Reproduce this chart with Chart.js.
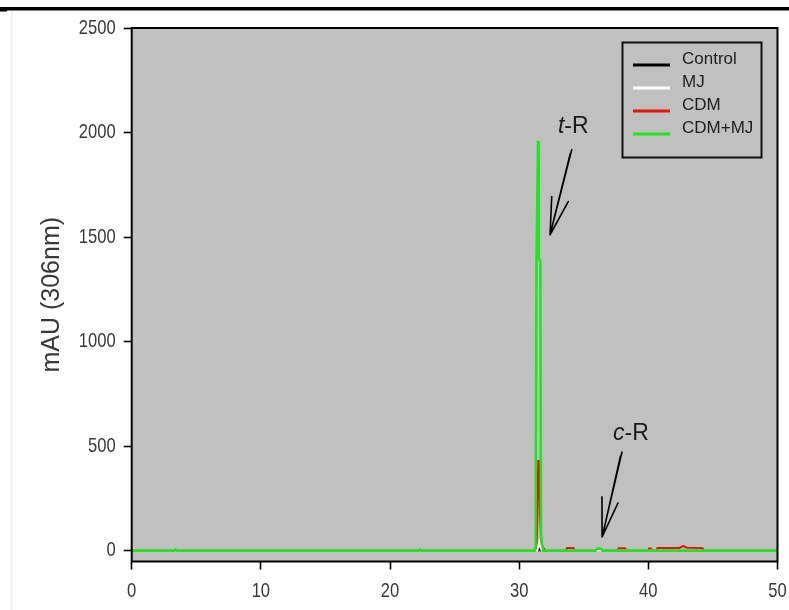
<!DOCTYPE html>
<html>
<head>
<meta charset="utf-8">
<script src="https://cdn.jsdelivr.net/npm/chart.js@4/dist/chart.umd.min.js"></script>
<style>
  html, body { margin: 0; padding: 0; background: #fff; }
  canvas { display: block; }
</style>
</head>
<body>
<canvas id="chrom" width="789" height="610"></canvas>
<script>
// HPLC traces: retention time (min) against absorbance (mAU at 306 nm)
const controlTime = [0, 31.45, 31.55, 31.7, 50];
const controlAbs  = [0, 0, 8, 0, 0];

const mjTime = [0, 31.4, 31.55, 31.65, 31.75, 50];
const mjAbs  = [0, 0, 42, 20, 0, 0];

const cdmTime = [0, 31.3, 31.36, 31.48, 31.53, 31.56, 31.61, 31.74, 32.0,
                 33.6, 33.7, 34.2, 34.3, 37.6, 37.7, 38.2, 38.3,
                 40.0, 40.05, 40.2, 40.3, 40.6, 40.7, 41.5, 42.4, 42.7, 43.0, 44.2, 44.3, 50];
const cdmAbs  = [0, 0, 30, 433, 330, 340, 160, 25, 0,
                 0, 12, 12, 0, 0, 11, 11, 0,
                 0, 10, 10, 0, 0, 12, 12, 13, 22, 14, 12, 0, 0];

const cdmMjTime = [0, 3.3, 3.4, 3.5, 22.2, 22.3, 22.4,
                   31.2, 31.27, 31.34, 31.46, 31.52, 31.64, 31.69, 31.85,
                   35.9, 36.05, 36.3, 36.45, 50];
const cdmMjAbs  = [0, 0, 6, 0, 0, 6, 0,
                   0, 20, 1390, 1960, 1400, 1380, 60, 0,
                   0, 10, 10, 0, 0];

const seriesLabels = ['Control', 'MJ', 'CDM', 'CDM+MJ'];
const xTickValues = [0, 10, 20, 30, 40, 50];
const yTickValues = [0, 500, 1000, 1500, 2000, 2500];

// Peak annotations (t-R / c-R) with their hand-drawn arrows, in data units
const peakNotes = [
  { lead: 't', tail: '-R', x: 33.0, y: 1999,
    shaft: [[34.07, 1918], [32.39, 1511]], heads: [[32.52, 1694], [33.80, 1670]] },
  { lead: 'c', tail: '-R', x: 37.27, y: 530,
    shaft: [[37.96, 472], [36.42, 66]], heads: [[36.41, 257], [37.65, 228]] }
];

const toPoints = (t, v) => t.map((x, i) => ({ x, y: v[i] }));

const textFamily = '"Liberation Sans", Arial, sans-serif';
const tickColor = '#383838';

// condensed numerals for the axis tick labels
function drawNarrow(ctx, text, x, y, align) {
  ctx.save();
  ctx.translate(x, y);
  ctx.scale(0.79, 1);
  ctx.textAlign = align;
  ctx.textBaseline = 'middle';
  ctx.fillText(text, 0, 0);
  ctx.restore();
}

const decor = {
  id: 'decor',
  beforeDraw(chart) {
    const { ctx, chartArea: a } = chart;
    ctx.save();
    ctx.fillStyle = '#000';
    ctx.fillRect(0, 7, chart.width, 3.5);
    ctx.fillRect(0, 7, 7, 4.5);
    ctx.fillStyle = '#ececec';
    ctx.fillRect(11, 11, 1.5, chart.height - 11);
    ctx.fillStyle = '#c0c0c0';
    ctx.fillRect(a.left, a.top, a.right - a.left, a.bottom - a.top);
    ctx.restore();
  },
  afterDatasetsDraw(chart) {
    const { ctx, chartArea: a, scales: { x, y } } = chart;
    ctx.save();
    // plot frame
    ctx.strokeStyle = '#000';
    ctx.lineWidth = 2;
    ctx.strokeRect(a.left, a.top, a.right - a.left, a.bottom - a.top);

    // peak labels and arrows
    ctx.fillStyle = '#1a1a1a';
    ctx.textBaseline = 'alphabetic';
    ctx.textAlign = 'left';
    ctx.lineCap = 'round';
    ctx.lineWidth = 1.6;
    peakNotes.forEach(n => {
      const px = x.getPixelForValue(n.x), py = y.getPixelForValue(n.y);
      ctx.font = 'italic 23px ' + textFamily;
      ctx.fillText(n.lead, px, py);
      const w = ctx.measureText(n.lead).width;
      ctx.font = '23px ' + textFamily;
      ctx.fillText(n.tail, px + w, py);
      const [s0, s1] = n.shaft.map(p => [x.getPixelForValue(p[0]), y.getPixelForValue(p[1])]);
      ctx.beginPath();
      ctx.moveTo(s0[0], s0[1]);
      ctx.lineTo(s1[0], s1[1]);
      ctx.moveTo(s0[0] - 1.5, s0[1] + 4);
      ctx.lineTo(s1[0] + 1.5, s1[1] - 6);
      n.heads.forEach(h => {
        ctx.moveTo(s1[0], s1[1]);
        ctx.lineTo(x.getPixelForValue(h[0]), y.getPixelForValue(h[1]));
      });
      ctx.stroke();
    });

    // legend box
    ctx.lineWidth = 2;
    ctx.strokeStyle = '#111';
    ctx.strokeRect(622.5, 42.5, 139, 115);
    ctx.font = '17px ' + textFamily;
    ctx.textBaseline = 'middle';
    ctx.textAlign = 'left';
    ctx.fillStyle = '#1e1e1e';
    chart.data.datasets.forEach((ds, i) => {
      const rowY = 65 + i * 23;
      ctx.strokeStyle = ds.borderColor;
      ctx.lineWidth = 3;
      ctx.lineCap = 'butt';
      ctx.beginPath();
      ctx.moveTo(633, rowY);
      ctx.lineTo(670, rowY);
      ctx.stroke();
      ctx.fillText(ds.label, 682, rowY - 5.5);
    });

    // axis tick labels
    ctx.font = '21px ' + textFamily;
    ctx.fillStyle = tickColor;
    y.ticks.forEach(t => drawNarrow(ctx, String(t.value), y.right - 16, y.getPixelForValue(t.value), 'right'));
    x.ticks.forEach(t => drawNarrow(ctx, String(t.value), x.getPixelForValue(t.value), x.top + 30, 'center'));
    ctx.restore();
  }
};

new Chart(document.getElementById('chrom'), {
  type: 'line',
  data: {
    datasets: [
      { label: seriesLabels[0], data: toPoints(controlTime, controlAbs), borderColor: '#000000', borderWidth: 2, order: 3 },
      { label: seriesLabels[1], data: toPoints(mjTime, mjAbs), borderColor: '#ffffff', borderWidth: 2, order: 1 },
      { label: seriesLabels[2], data: toPoints(cdmTime, cdmAbs), borderColor: '#e8140c', borderWidth: 2, order: 2 },
      { label: seriesLabels[3], data: toPoints(cdmMjTime, cdmMjAbs), borderColor: '#1ee61e', borderWidth: 2.5, order: 0 }
    ]
  },
  options: {
    responsive: false,
    animation: false,
    layout: { padding: { top: 28, right: 11.5, left: 0, bottom: 0 } },
    elements: { point: { radius: 0 }, line: { tension: 0, fill: false } },
    plugins: { legend: { display: false }, tooltip: { enabled: false } },
    scales: {
      x: {
        type: 'linear', min: 0, max: 50,
        afterBuildTicks: s => { s.ticks = xTickValues.map(v => ({ value: v })); },
        afterFit: s => { s.height = 48.5; },
        border: { display: false },
        grid: { drawOnChartArea: false, drawTicks: true, tickLength: 8, tickColor: '#000', tickWidth: 1.6 },
        ticks: { display: false }
      },
      y: {
        type: 'linear', min: -52, max: 2500,
        afterBuildTicks: s => { s.ticks = yTickValues.map(v => ({ value: v })); },
        afterFit: s => { s.width = 131.7; },
        border: { display: false },
        grid: { drawOnChartArea: false, drawTicks: true, tickLength: 8, tickColor: '#000', tickWidth: 1.6 },
        ticks: { display: false },
        title: { display: true, text: 'mAU (306nm)', color: tickColor,
                 font: { family: textFamily, size: 25 }, padding: { top: 37, bottom: 0 } }
      }
    }
  },
  plugins: [decor]
});
</script>
</body>
</html>
